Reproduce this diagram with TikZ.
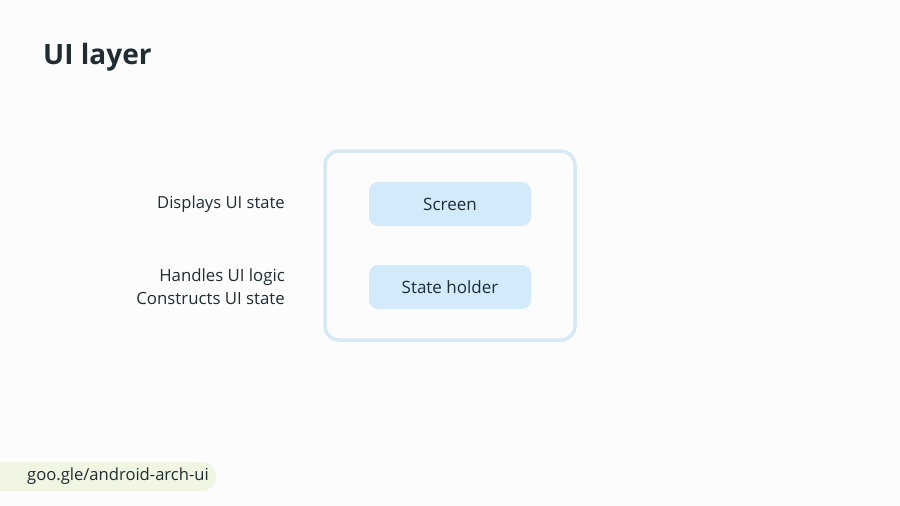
\documentclass[tikz,border=0pt]{standalone}
\usepackage{fontspec}
\setmainfont{Open Sans}
\definecolor{bg}{HTML}{FCFCFC}
\definecolor{ink}{HTML}{1F2D33}
\definecolor{outline}{HTML}{D6EAF6}
\definecolor{boxfill}{HTML}{D3EAFA}
\definecolor{pill}{HTML}{F1F6E2}
\tikzset{
  lbl/.style={text=ink, font=\fontsize{16.6}{22}\selectfont, inner sep=0pt},
  inbox/.style={fill=boxfill, rounded corners=9pt, minimum width=162pt, minimum height=44pt, inner sep=0pt, text=ink, font=\fontsize{17}{20}\selectfont},
}
\begin{document}
\begin{tikzpicture}[x=1pt,y=-1pt]
\fill[bg] (0,0) rectangle (900,506);
\useasboundingbox (0,0) rectangle (900,506);
\node[anchor=base west, text=ink, font=\fontsize{28}{32}\bfseries, inner sep=0pt] (title) at (43,64) {UI layer};
\draw[outline, line width=3.5pt, rounded corners=14pt] (325,151) rectangle (575,340);
\node[inbox] (screen) at (450,204) {Screen};
\node[inbox] (holder) at (450,287) {State holder};
\node[lbl, anchor=east] (disp) at (285,204) {Displays UI state};
\node[lbl, anchor=east, align=right, font=\fontsize{16.8}{23}\selectfont] (logic) at (285,286.5) {Handles UI logic\\Constructs UI state};
\fill[pill, rounded corners=14pt] (-20,462) rectangle (216,491);
\node[lbl, anchor=west, font=\fontsize{16.6}{22}\selectfont] (link) at (27,476.5) {goo.gle/android-arch-ui};
\end{tikzpicture}
\end{document}
